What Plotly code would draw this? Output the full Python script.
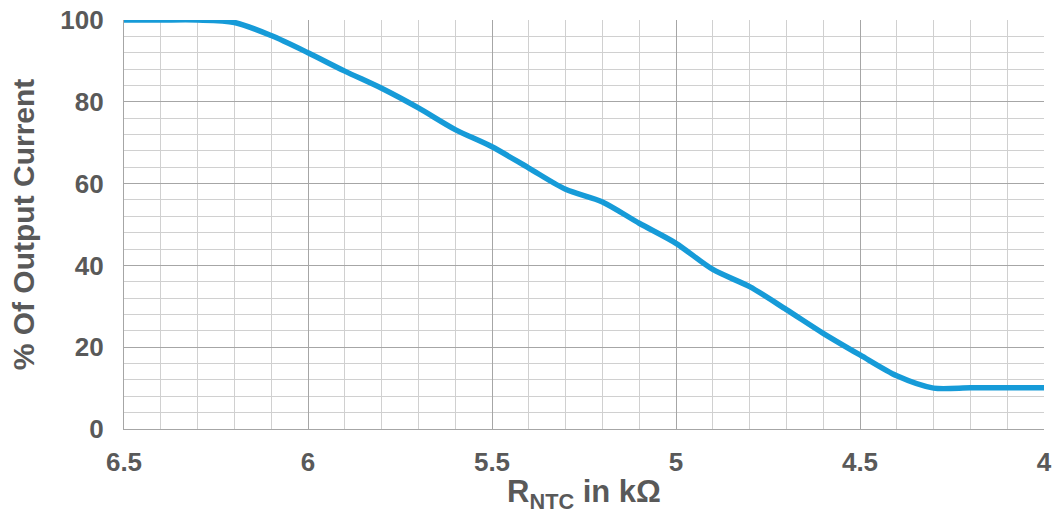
import plotly.graph_objects as go

r_ntc = [6.5, 6.4, 6.3, 6.2, 6.1, 6.0, 5.9, 5.8, 5.7, 5.6, 5.5, 5.4, 5.3, 5.2, 5.1, 5.0,
         4.9, 4.8, 4.7, 4.6, 4.5, 4.4, 4.3, 4.2, 4.1, 4.0]
pct_current = [100, 100, 100, 99.4, 96.2, 92.0, 87.5, 83.3, 78.5, 73.2, 69.0, 63.8, 58.6, 55.5,
               50.3, 45.4, 39.0, 34.8, 29.2, 23.4, 18.1, 13.0, 10.0, 10.1, 10.1, 10.1]

x_ticks = [6.5, 6.0, 5.5, 5.0, 4.5, 4.0]
x_tick_labels = ["6.5", "6", "5.5", "5", "4.5", "4"]
y_ticks = [0, 20, 40, 60, 80, 100]
y_tick_labels = ["0", "20", "40", "60", "80", "100"]

font_family = "Liberation Sans, Arial, sans-serif"
text_color = "#595959"

fig = go.Figure()
fig.add_trace(go.Scatter(
    x=r_ntc, y=pct_current, mode="lines",
    line=dict(color="#169bd8", width=5.5, shape="spline", smoothing=0.8),
    hoverinfo="skip", showlegend=False,
))

fig.update_layout(
    width=1054, height=514,
    margin=dict(l=124, r=10, t=20, b=85),
    paper_bgcolor="white", plot_bgcolor="white",
    font=dict(family=font_family, color=text_color),
    xaxis=dict(
        range=[6.5, 4.0], tickmode="array", tickvals=x_ticks, ticktext=x_tick_labels,
        showgrid=True, gridcolor="#a6a6a6", gridwidth=1.3,
        minor=dict(dtick=0.1, showgrid=True, gridcolor="#d0d0d0", gridwidth=1.3, tick0=4.0),
        showline=True, linecolor="#a6a6a6", linewidth=1.3,
        zeroline=False, ticks="", ticklabelstandoff=10, automargin=False,
        tickfont=dict(size=26, family=font_family, color=text_color, weight="bold"),
        title=dict(text="R<sub>NTC</sub> in kΩ", standoff=2,
                   font=dict(size=31, family=font_family, color=text_color, weight="bold")),
    ),
    yaxis=dict(
        range=[0, 100], tickmode="array", tickvals=y_ticks, ticktext=y_tick_labels,
        showgrid=True, gridcolor="#a6a6a6", gridwidth=1.3,
        minor=dict(dtick=4, showgrid=True, gridcolor="#d0d0d0", gridwidth=1.3, tick0=0),
        showline=True, linecolor="#a6a6a6", linewidth=1.3,
        zeroline=False, ticks="", ticklabelstandoff=14, automargin=False,
        tickfont=dict(size=26, family=font_family, color=text_color, weight="bold"),
        title=dict(text="% Of Output Current", standoff=16,
                   font=dict(size=30, family=font_family, color=text_color, weight="bold")),
    ),
)

fig.write_html("out.html", config={"displayModeBar": False},
               post_script="document.body.style.margin='0px';")
